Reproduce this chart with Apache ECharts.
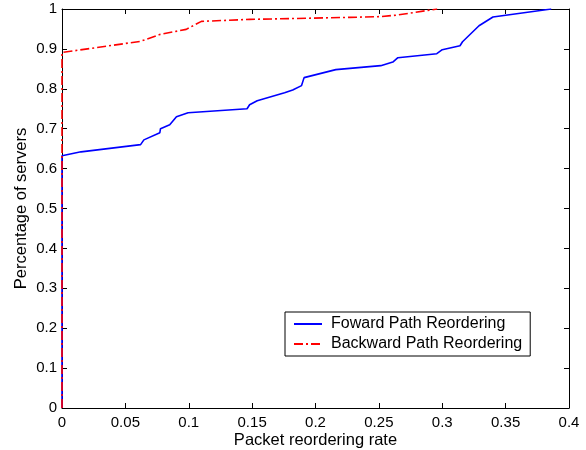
<!DOCTYPE html>
<html>
<head>
<meta charset="utf-8">
<script src="https://cdn.jsdelivr.net/npm/echarts@6/dist/echarts.min.js"></script>
<style>
  html, body { margin: 0; padding: 0; background: #fff; }
  #chart { width: 586px; height: 450px; }
</style>
</head>
<body>
<div id="chart"></div>
<script>
// CDF of reordering rate per server
var fwdX = [0, 0, 0.015, 0.062, 0.0646, 0.0772, 0.0777, 0.085, 0.0903, 0.0995, 0.146, 0.148, 0.154,
  0.1756, 0.182, 0.189, 0.191, 0.216, 0.2515, 0.261, 0.265, 0.2957, 0.300, 0.314, 0.316, 0.329, 0.340, 0.386];
var fwdY = [0, 0.632, 0.642, 0.66, 0.672, 0.69, 0.70, 0.71, 0.73, 0.74, 0.75, 0.76, 0.77,
  0.79, 0.797, 0.808, 0.828, 0.848, 0.858, 0.867, 0.878, 0.888, 0.898, 0.908, 0.918, 0.958, 0.98, 1.0];

var bwdX = [0, 0, 0.062, 0.077, 0.098, 0.11, 0.148, 0.227, 0.252, 0.265, 0.296];
var bwdY = [0, 0.891, 0.919, 0.936, 0.949, 0.969, 0.974, 0.979, 0.981, 0.985, 1.0];

var xTicks = ['0', '0.05', '0.1', '0.15', '0.2', '0.25', '0.3', '0.35', '0.4'];
var yTicks = ['0', '0.1', '0.2', '0.3', '0.4', '0.5', '0.6', '0.7', '0.8', '0.9', '1'];

function pairs(xs, ys) {
  return xs.map(function(x, i) { return [x, ys[i]]; });
}

var font = 'Liberation Sans, Arial, Helvetica, sans-serif';
var chart = echarts.init(document.getElementById('chart'));

var baseAxis = {
  type: 'value',
  axisLine: { show: true, onZero: false, lineStyle: { color: '#000', width: 1 } },
  axisTick: { show: true, inside: true, length: 5, lineStyle: { color: '#000' } },
  splitLine: { show: false }
};

chart.setOption({
  animation: false,
  backgroundColor: '#fff',
  textStyle: { fontFamily: font },
  grid: { left: 62, right: 17, top: 9, bottom: 42, containLabel: false, outerBoundsMode: 'none' },
  legend: {
    orient: 'vertical',
    left: 285,
    top: 312,
    itemWidth: 28,
    itemHeight: 14,
    itemGap: 4,
    padding: [4, 8, 4, 8],
    borderColor: '#000',
    borderWidth: 1,
    backgroundColor: '#fff',
    itemStyle: { opacity: 0 },
    textStyle: { fontFamily: font, fontSize: 16, color: '#000', padding: [0, 0, 0, 4] },
    data: ['Foward Path Reordering', 'Backward Path Reordering']
  },
  xAxis: [
    Object.assign({}, baseAxis, {
      min: 0, max: 0.4, interval: 0.05,
      name: 'Packet reordering rate',
      nameLocation: 'middle',
      nameGap: 24,
      nameMoveOverlap: false,
      nameTextStyle: { fontFamily: font, fontSize: 16.5, color: '#000' },
      axisLabel: {
        color: '#000', fontFamily: font, fontSize: 15, margin: 7,
        formatter: function(v) { return xTicks[Math.round(v / 0.05)]; }
      }
    }),
    Object.assign({}, baseAxis, {
      min: 0, max: 0.4, interval: 0.05, position: 'top',
      axisLabel: { show: false }
    })
  ],
  yAxis: [
    Object.assign({}, baseAxis, {
      min: 0, max: 1, interval: 0.1,
      name: 'Percentage of servers',
      nameLocation: 'middle',
      nameGap: 32,
      nameMoveOverlap: false,
      nameTextStyle: { fontFamily: font, fontSize: 16.5, color: '#000' },
      axisLabel: {
        color: '#000', fontFamily: font, fontSize: 15, margin: 5,
        formatter: function(v) { return yTicks[Math.round(v / 0.1)]; }
      }
    }),
    Object.assign({}, baseAxis, {
      min: 0, max: 1, interval: 0.1, position: 'right',
      axisLabel: { show: false }
    })
  ],
  series: [
    {
      name: 'Foward Path Reordering',
      type: 'line',
      data: pairs(fwdX, fwdY),
      showSymbol: false,
      symbol: 'none',
      color: '#0000ff',
      lineStyle: { color: '#0000ff', width: 1.6 }
    },
    {
      name: 'Backward Path Reordering',
      type: 'line',
      data: pairs(bwdX, bwdY),
      showSymbol: false,
      symbol: 'none',
      color: '#ff0000',
      lineStyle: { color: '#ff0000', width: 1.6, type: [9, 3, 2, 3] }
    }
  ]
});
</script>
</body>
</html>
